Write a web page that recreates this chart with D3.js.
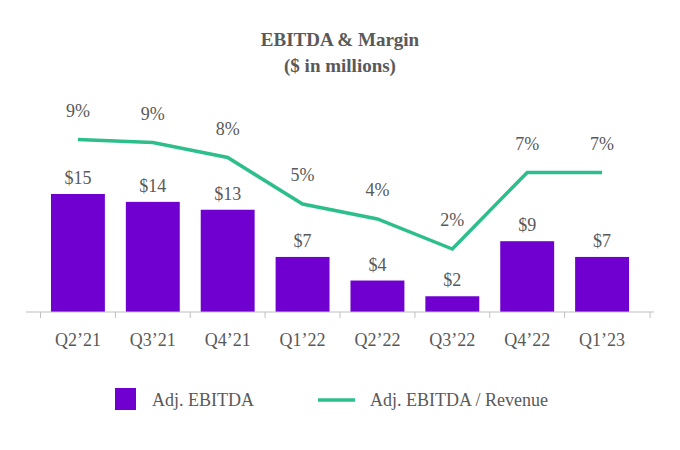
<!DOCTYPE html>
<html><head><meta charset="utf-8">
<script src="https://cdn.jsdelivr.net/npm/d3@7"></script>
<style>body{margin:0;background:#fff}text{font-family:"Liberation Serif","Times New Roman",serif}</style>
</head><body><svg width="680" height="450"></svg>
<script>
var quarters = ["Q2\u201921","Q3\u201921","Q4\u201921","Q1\u201922","Q2\u201922","Q3\u201922","Q4\u201922","Q1\u201923"];
var ebitda = [15, 14, 13, 7, 4, 2, 9, 7];
var margin = [9.3, 9.1, 8.1, 5.0, 4.0, 2.0, 7.1, 7.1];
var marginLabels = ["9%","9%","8%","5%","4%","2%","7%","7%"];

var svg = d3.select("svg"),
    purple = "#6f00cf", green = "#2dbf8b", grey = "#595959";

svg.append("text").attr("x", 340).attr("y", 46).attr("text-anchor", "middle")
   .attr("font-weight", "bold").attr("font-size", 19).attr("fill", grey).text("EBITDA & Margin");
svg.append("text").attr("x", 340).attr("y", 72).attr("text-anchor", "middle")
   .attr("font-weight", "bold").attr("font-size", 19).attr("fill", grey).text("($ in millions)");

var x = d3.scaleBand().domain(quarters).range([30, 650]).padding(0.28),
    yBar = d3.scaleLinear().domain([0, 15]).range([312, 194]),
    yLine = d3.scaleLinear().domain([0, 5]).range([279, 204]);

svg.selectAll(".bar").data(ebitda).enter().append("rect")
   .attr("x", function(d, i) { return x(quarters[i]); })
   .attr("y", function(d) { return yBar(d); })
   .attr("width", x.bandwidth())
   .attr("height", function(d) { return yBar(0) - yBar(d); })
   .attr("fill", purple);

svg.selectAll(".blab").data(ebitda).enter().append("text")
   .attr("x", function(d, i) { return x(quarters[i]) + x.bandwidth() / 2; })
   .attr("y", function(d) { return yBar(d) - 10; })
   .attr("text-anchor", "middle").attr("font-size", 18).attr("fill", grey)
   .text(function(d) { return "$" + d; });

// axis
svg.append("line").attr("x1", 26).attr("x2", 654).attr("y1", 312).attr("y2", 312)
   .attr("stroke", "#bfbfbf");
var bounds = quarters.map(function(q) { return x(q) - x.step() * x.padding() / 2; });
bounds.push(650 + 0);
svg.selectAll(".tick").data(bounds).enter().append("line")
   .attr("x1", function(d) { return d; }).attr("x2", function(d) { return d; })
   .attr("y1", 312).attr("y2", 318).attr("stroke", "#bfbfbf");
svg.selectAll(".xlab").data(quarters).enter().append("text")
   .attr("x", function(d) { return x(d) + x.bandwidth() / 2; })
   .attr("y", 346).attr("text-anchor", "middle").attr("font-size", 18).attr("fill", grey)
   .text(function(d) { return d; });

var line = d3.line()
   .x(function(d, i) { return x(quarters[i]) + x.bandwidth() / 2; })
   .y(function(d) { return yLine(d); });
svg.append("path").datum(margin).attr("d", line).attr("fill", "none")
   .attr("stroke", green).attr("stroke-width", 3.5);

svg.selectAll(".mlab").data(margin).enter().append("text")
   .attr("x", function(d, i) { return x(quarters[i]) + x.bandwidth() / 2; })
   .attr("y", function(d) { return yLine(d) - 23; })
   .attr("text-anchor", "middle").attr("font-size", 18).attr("fill", grey)
   .text(function(d, i) { return marginLabels[i]; });

// legend
svg.append("rect").attr("x", 115).attr("y", 388).attr("width", 21).attr("height", 22).attr("fill", purple);
svg.append("text").attr("x", 152).attr("y", 406).attr("font-size", 18).attr("fill", grey).text("Adj. EBITDA");
svg.append("line").attr("x1", 318).attr("x2", 355).attr("y1", 400).attr("y2", 400)
   .attr("stroke", green).attr("stroke-width", 3.5);
svg.append("text").attr("x", 370).attr("y", 406).attr("font-size", 18).attr("fill", grey).text("Adj. EBITDA / Revenue");
</script></body></html>
